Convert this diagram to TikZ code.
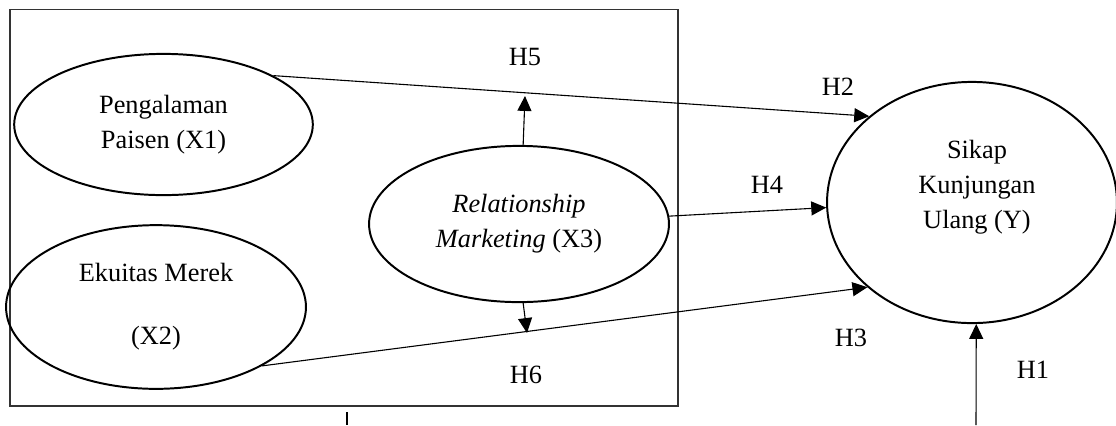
\documentclass[tikz,border=0pt]{standalone}
\usepackage{fontspec}
\setmainfont{Liberation Serif}
\usepackage{tikz}
\usetikzlibrary{shapes.geometric, arrows.meta, positioning, calc}

\begin{document}
\begin{tikzpicture}[x=0.016cm, y=-0.016cm,
    var/.style={ellipse,draw,line width=0.9pt,inner sep=0pt,align=center,font=\fontsize{12}{16}\selectfont},
    lbl/.style={font=\fontsize{12}{16}\selectfont},
    hyp/.style={-{Triangle[length=6.8pt,width=6.4pt]},line width=0.5pt}]
    \useasboundingbox (0,0) rectangle (1116,425);

    % Kotak variabel independen
    \draw[line width=0.6pt,black!80] (10,9.5) rectangle (678,406);

    % Variabel X
    \node[var,minimum width=4.78cm,minimum height=2.26cm] (x1) at (163.5,124.5) {Pengalaman\\Paisen (X1)};
    \node[var,minimum width=4.8cm,minimum height=2.62cm] (x2) at (156,307) {Ekuitas Merek\\[12.6pt](X2)};
    \node[var,minimum width=4.8cm,minimum height=2.5cm] (x3) at (519,224) {\textit{Relationship}\\\textit{Marketing} (X3)};

    % Variabel Y
    \node[var,minimum width=4.64cm,minimum height=3.86cm] (y) at (972,202.5) {};
    \node[lbl,align=center] (ytext) at (977,187) {Sikap\\Kunjungan\\Ulang (Y)};

    % Ujung bebas
    \coordinate (h5end) at (525,96);
    \coordinate (h6end) at (527,333);
    \coordinate (h1start) at (976,425);
    \coordinate (ticktop) at (347,412);
    \coordinate (tickbot) at (347,425);

    % Hipotesis
    \draw[hyp] (x1.24.9) -- (y.140);
    \draw[hyp] (x3.3.4) -- (y.182.2);
    \draw[hyp] (x2.331.5) -- (y.219.6);
    \draw[hyp] (x3.87) -- (h5end);
    \draw[hyp] (x3.273) -- (h6end);
    \draw[hyp] (h1start) -- (y.272);
    \draw[line width=0.5pt] (ticktop) -- (tickbot);

    % Label
    \node[lbl] (h5) at (525,57) {H5};
    \node[lbl] (h6) at (526,375) {H6};
    \node[lbl] (h2) at (838,87) {H2};
    \node[lbl] (h4) at (767,185) {H4};
    \node[lbl] (h3) at (851,338) {H3};
    \node[lbl] (h1) at (1033,370) {H1};
\end{tikzpicture}
\end{document}
